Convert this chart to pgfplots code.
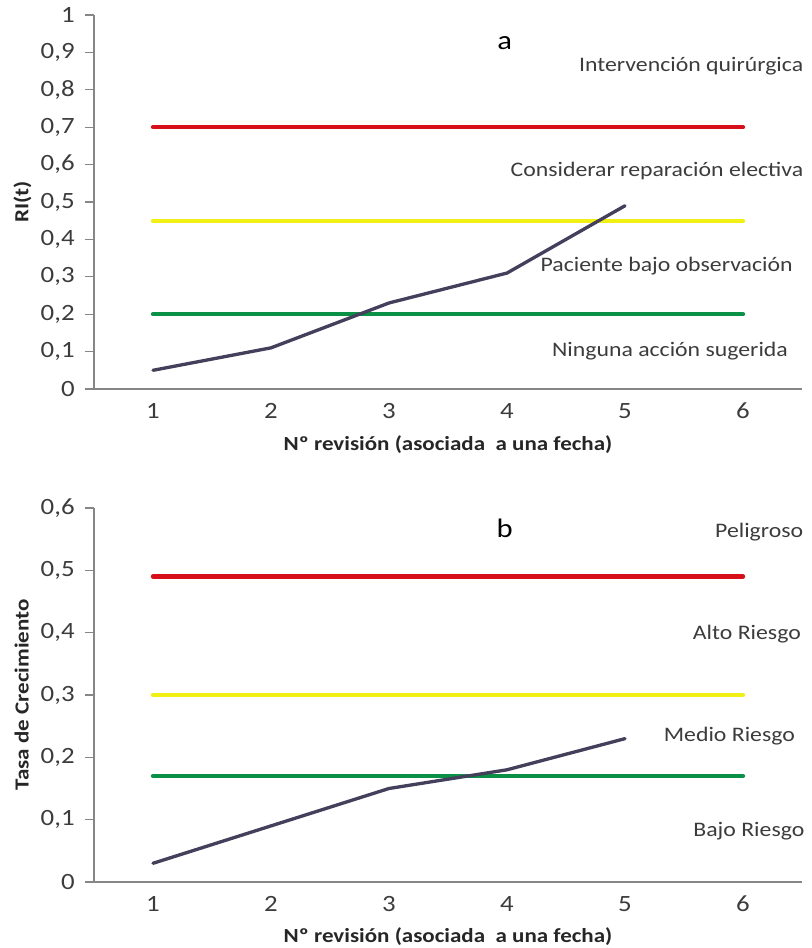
\documentclass[border=0pt]{standalone}
\usepackage{fontspec}
\setmainfont{Carlito}[FakeStretch=1.15]
\usepackage{pgfplots}
\pgfplotsset{compat=1.18}
\definecolor{rl}{RGB}{215,15,25}
\definecolor{yl}{RGB}{240,240,20}
\definecolor{gl}{RGB}{10,145,70}
\definecolor{dl}{RGB}{68,64,92}
\definecolor{tx}{RGB}{60,60,60}
\definecolor{ax}{RGB}{134,134,134}
\tikzset{
  thr/.style={line width=3.2pt},
  dat/.style={line width=2.5pt, dl},
  note/.style={anchor=east, font=\fontsize{15.5}{18}\selectfont, text=tx},
}
\pgfplotsset{
  common/.style={
    scale only axis, width=531pt, height=280.5pt,
    xmin=0.5, xmax=6.5, xtick={1,2,3,4,5,6},
    axis x line*=bottom, axis y line*=left,
    axis line style={draw=ax, line width=1pt},
    major x tick style={draw=none},
    major y tick style={draw=ax, line width=0.8pt},
    tick align=outside, major tick length=7pt,
    xticklabel style={font=\fontsize{17.5}{20}\selectfont, text=tx},
    yticklabel style={font=\fontsize{17.5}{20}\selectfont, text=tx, anchor=east, xshift=-4pt},
    /pgf/number format/assume math mode=true,
    /pgf/number format/use comma,
    label style={font=\fontsize{15}{18}\selectfont\bfseries, text=black!85},
    clip=false,
    every axis plot/.append style={line cap=round},
  },
}
\begin{document}
\begin{tikzpicture}
\path[use as bounding box] (0,0) rectangle (609pt,711pt);
\begin{axis}[common, at={(70.5pt,419.25pt)}, anchor=south west,
  ymin=0, ymax=1, ytick={0,0.1,0.2,0.3,0.4,0.5,0.6,0.7,0.8,0.9,1},
  yticklabels={0,{0,1},{0,2},{0,3},{0,4},{0,5},{0,6},{0,7},{0,8},{0,9},1},
  ylabel={RI(t)}, ylabel style={at={(axis description cs:-0.101,0.5)}, anchor=center, rotate=0},
  xlabel={Nº revisión (asociada\ \ a una fecha)}, xlabel style={at={(axis description cs:0.5,-0.150)}, anchor=center},
]
\addplot[thr, rl] coordinates {(1,0.7) (6,0.7)};
\addplot[thr, yl] coordinates {(1,0.45) (6,0.45)};
\addplot[thr, gl] coordinates {(1,0.2) (6,0.2)};
\addplot[dat] coordinates {(1,0.05) (2,0.11) (3,0.23) (4,0.31) (5,0.49)};
\node[anchor=center, font=\fontsize{20}{24}\selectfont] at (axis cs:3.98,0.925) {a};
\node[note] at (axis cs:6.55,0.862) {Intervención quirúrgica};
\node[note] at (axis cs:6.55,0.582) {Considerar reparación electiva};
\node[note] at (axis cs:6.46,0.328) {Paciente bajo observación};
\node[note] at (axis cs:6.42,0.102) {Ninguna acción sugerida};
\end{axis}
\begin{axis}[common, at={(70.5pt,49.5pt)}, anchor=south west,
  ymin=0, ymax=0.6, ytick={0,0.1,0.2,0.3,0.4,0.5,0.6},
  yticklabels={0,{0,1},{0,2},{0,3},{0,4},{0,5},{0,6}},
  ylabel={Tasa de Crecimiento}, ylabel style={at={(axis description cs:-0.102,0.5)}, anchor=center, rotate=0},
  xlabel={Nº revisión (asociada\ \ a una fecha)}, xlabel style={at={(axis description cs:0.5,-0.147)}, anchor=center},
]
\addplot[thr, rl] coordinates {(1,0.49) (6,0.49)};
\addplot[thr, yl] coordinates {(1,0.30) (6,0.30)};
\addplot[thr, gl] coordinates {(1,0.17) (6,0.17)};
\addplot[dat] coordinates {(1,0.03) (2,0.09) (3,0.15) (4,0.18) (5,0.23)};
\node[anchor=center, font=\fontsize{20}{24}\selectfont] at (axis cs:3.98,0.568) {b};
\node[note] at (axis cs:6.55,0.562) {Peligroso};
\node[note] at (axis cs:6.53,0.397) {Alto Riesgo};
\node[note] at (axis cs:6.48,0.234) {Medio Riesgo};
\node[note] at (axis cs:6.56,0.081) {Bajo Riesgo};
\end{axis}
\end{tikzpicture}
\end{document}
